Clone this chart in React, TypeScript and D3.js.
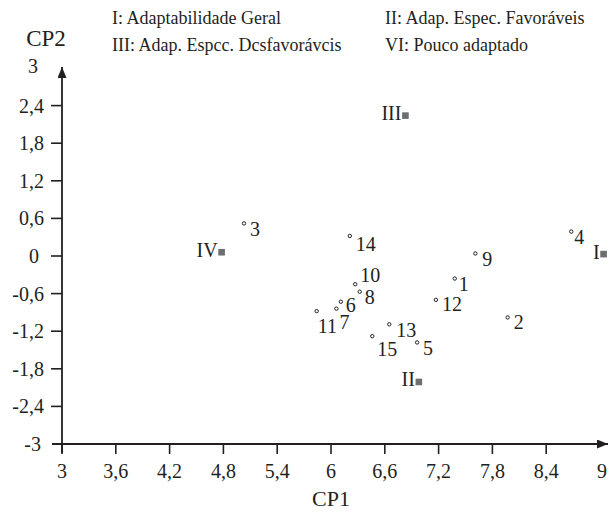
import React, { useEffect, useRef } from "react";
import * as d3 from "d3";

// genotypes: CP1 / CP2 scores
const genotypes = ["1", "2", "3", "4", "5", "6", "7", "8", "9", "10", "11", "12", "13", "14", "15"];
const cp1 = [7.38, 7.97, 5.03, 8.68, 6.96, 6.11, 6.06, 6.32, 7.61, 6.27, 5.84, 7.17, 6.65, 6.21, 6.46];
const cp2 = [-0.36, -0.98, 0.52, 0.39, -1.38, -0.73, -0.84, -0.57, 0.04, -0.45, -0.88, -0.7, -1.09, 0.32, -1.28];

// ideotype references
const refNames = ["I", "II", "III", "IV"];
const refCp1 = [9.04, 6.98, 6.83, 4.78];
const refCp2 = [0.03, -2.01, 2.24, 0.06];

const xTicks = [3, 3.6, 4.2, 4.8, 5.4, 6, 6.6, 7.2, 7.8, 8.4, 9];
const yTicks = [-3, -2.4, -1.8, -1.2, -0.6, 0, 0.6, 1.2, 1.8, 2.4, 3];

const legendLines = [
  ["I: Adaptabilidade Geral", "II: Adap. Espec. Favoráveis"],
  ["III: Adap. Espcc. Dcsfavorávcis", "VI: Pouco adaptado"],
];

// label offsets for each genotype [dx, dy]
const labelOffsets: [number, number][] = [
  [4, 12], [6, 12], [6, 13], [3, 12], [6, 13], [5, 10], [3, 20], [5, 12], [7, 13], [5, -2], [1, 22], [6, 11], [7, 13], [6, 15], [5, 20],
];

const fmt = (v: number) => String(Math.round(v * 10) / 10).replace(".", ",");

export default function App() {
  const ref = useRef<SVGSVGElement>(null);

  useEffect(() => {
    const svg = d3.select(ref.current);
    svg.selectAll("*").remove();
    const font = "Liberation Serif, Times New Roman, Times, serif";
    const ink = "#231f20";

    const x = d3.scaleLinear().domain([3, 9]).range([62, 600]);
    const y = d3.scaleLinear().domain([-3, 3]).range([444, 68]);

    svg.append("defs").append("marker")
      .attr("id", "arr").attr("viewBox", "0 0 10 10").attr("refX", 10).attr("refY", 5)
      .attr("markerWidth", 11).attr("markerHeight", 9).attr("markerUnits", "userSpaceOnUse")
      .attr("orient", "auto").attr("preserveAspectRatio", "none")
      .append("path").attr("d", "M0,0L10,5L0,10Z").attr("fill", ink);

    // axes
    svg.append("line").attr("x1", x(3)).attr("x2", x(3)).attr("y1", y(-3) + 9).attr("y2", y(3) - 1)
      .attr("stroke", ink).attr("stroke-width", 1.8).attr("marker-end", "url(#arr)");
    svg.append("line").attr("x1", x(3) - 10).attr("x2", x(9) + 8).attr("y1", y(-3)).attr("y2", y(-3))
      .attr("stroke", ink).attr("stroke-width", 1.8).attr("marker-end", "url(#arr)");

    const yt = yTicks.filter(d => d > -3 && d < 3);
    svg.selectAll(".yt").data(yt).join("line")
      .attr("x1", x(3) - 11).attr("x2", x(3)).attr("y1", d => y(d)).attr("y2", d => y(d))
      .attr("stroke", ink).attr("stroke-width", 1.6);
    svg.selectAll(".yl").data(yTicks).join("text")
      .attr("x", d => (d === 3 ? 38 : d === 0 ? 39 : d === -3 ? 41 : 44)).attr("y", d => y(d) + (d === 3 ? 5 : 7))
      .attr("text-anchor", "end")
      .attr("font-family", font).attr("font-size", 20).attr("fill", ink)
      .text(d => fmt(d));

    const xt = xTicks.filter(d => d < 9);
    svg.selectAll(".xt").data(xt).join("line")
      .attr("x1", d => x(d)).attr("x2", d => x(d)).attr("y1", y(-3)).attr("y2", y(-3) + 10)
      .attr("stroke", ink).attr("stroke-width", 1.6);
    svg.selectAll(".xl").data(xTicks).join("text")
      .attr("x", d => x(d) + (d === 9 ? 2 : 0)).attr("y", 478)
      .attr("text-anchor", "middle")
      .attr("font-family", font).attr("font-size", 20).attr("fill", ink)
      .text(d => fmt(d));

    svg.append("text").attr("x", x(6)).attr("y", 506).attr("text-anchor", "middle")
      .attr("font-family", font).attr("font-size", 22).attr("fill", ink).text("CP1");
    svg.append("text").attr("x", 46).attr("y", 46).attr("text-anchor", "middle")
      .attr("font-family", font).attr("font-size", 23).attr("fill", ink).text("CP2");

    // legend text
    legendLines.forEach((row, i) => {
      row.forEach((t, j) => {
        svg.append("text").attr("x", j === 0 ? 112 : 385).attr("y", 24 + i * 27)
          .attr("font-family", font).attr("font-size", 18).attr("fill", ink).text(t);
      });
    });

    // genotype points
    const pts = genotypes.map((g, i) => ({ g, x: cp1[i], y: cp2[i], off: labelOffsets[i] }));
    svg.selectAll(".pt").data(pts).join("circle")
      .attr("cx", d => x(d.x)).attr("cy", d => y(d.y)).attr("r", 1.7)
      .attr("fill", "#fff").attr("stroke", ink).attr("stroke-width", 1);
    svg.selectAll(".pl").data(pts).join("text")
      .attr("x", d => x(d.x) + d.off[0]).attr("y", d => y(d.y) + d.off[1])
      .attr("font-family", font).attr("font-size", 20).attr("fill", ink)
      .text(d => d.g);

    // reference squares
    const refs = refNames.map((n, i) => ({ n, x: refCp1[i], y: refCp2[i] }));
    svg.selectAll(".rs").data(refs).join("rect")
      .attr("x", d => x(d.x) - 3.3).attr("y", d => y(d.y) - 3.3).attr("width", 6.6).attr("height", 6.6)
      .attr("fill", "#6d6e71");
    svg.selectAll(".rl").data(refs).join("text")
      .attr("x", d => x(d.x) - 4).attr("y", d => y(d.y) + 4.5).attr("text-anchor", "end")
      .attr("font-family", font).attr("font-size", 20).attr("fill", ink)
      .text(d => d.n);
  }, []);

  return <svg ref={ref} width={616} height={516} style={{ position: "absolute", left: 0, top: 0, background: "#fff" }} />;
}
